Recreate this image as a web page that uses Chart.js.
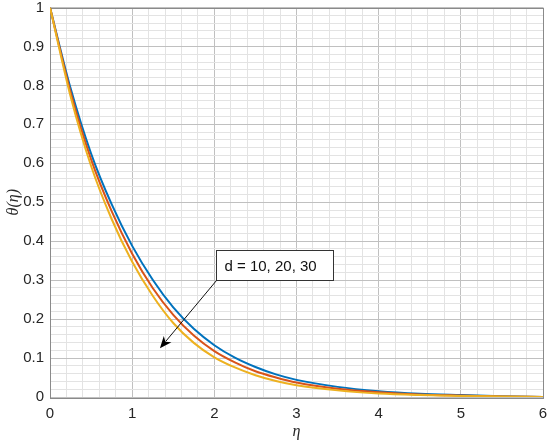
<!DOCTYPE html>
<html>
<head>
<meta charset="utf-8">
<script src="https://cdn.jsdelivr.net/npm/chart.js@4.4.1/dist/chart.umd.min.js"></script>
<style>
  html, body { margin: 0; padding: 0; background: #fff; }
  #wrap { width: 550px; height: 445px; }
</style>
</head>
<body>
<div id="wrap"><canvas id="myChart" width="550" height="445"></canvas></div>
<script>
// eta grid and temperature profiles
const etaValues = [0, 0.25, 0.5, 0.75, 1, 1.25, 1.5, 1.75, 2, 2.25, 2.5, 2.75, 3, 3.5, 4, 4.5, 5, 5.5, 6];
const thetaD10 = [1, 0.793, 0.625, 0.495, 0.388, 0.301, 0.23, 0.175, 0.133, 0.101, 0.077, 0.058, 0.044, 0.026, 0.015, 0.0085, 0.005, 0.002, 0];
const thetaD20 = [1, 0.783, 0.61, 0.477, 0.368, 0.28, 0.211, 0.158, 0.118, 0.089, 0.066, 0.05, 0.037, 0.021, 0.012, 0.0065, 0.0037, 0.0015, 0];
const thetaD30 = [1, 0.772, 0.593, 0.457, 0.347, 0.26, 0.19, 0.139, 0.102, 0.076, 0.056, 0.041, 0.03, 0.017, 0.009, 0.005, 0.0027, 0.0013, 0];

const xMajorTicks = [0, 1, 2, 3, 4, 5, 6];
const yMajorTicks = [0, 0.1, 0.2, 0.3, 0.4, 0.5, 0.6, 0.7, 0.8, 0.9, 1];

const annotationText = 'd = 10, 20, 30';
const boxCorner = { x: 2.016, y: 0.377 };   // top-left of text box (data units)
const arrowTip = { x: 1.338, y: 0.125 };

const textColor = '#262626';
const majorGrid = '#c0c0c0';
const minorGrid = '#e3e3e3';

function toPoints(ys) {
    return etaValues.map(function(x, i) { return { x: x, y: ys[i] }; });
}

function isMajor(value, list) {
    return list.some(function(t) { return Math.abs(t - value) < 1e-6; });
}

const boxPlugin = {
    id: 'boxPlugin',
    beforeDatasetsDraw(chart) {
        const a = chart.chartArea;
        const ctx = chart.ctx;
        ctx.save();
        ctx.strokeStyle = '#8a8a8a';
        ctx.lineWidth = 1;
        ctx.strokeRect(Math.round(a.left) + 0.5, Math.round(a.top) + 0.5,
            Math.round(a.right - a.left), Math.round(a.bottom - a.top));
        ctx.restore();
    }
};

const notePlugin = {
    id: 'notePlugin',
    afterDatasetsDraw(chart) {
        const ctx = chart.ctx;
        const xs = chart.scales.x, ys = chart.scales.y;
        const bx = Math.round(xs.getPixelForValue(boxCorner.x)) + 0.5;
        const by = Math.round(ys.getPixelForValue(boxCorner.y)) + 0.5;
        ctx.save();
        ctx.font = '15px "Liberation Sans", Arial, sans-serif';
        const tw = ctx.measureText(annotationText).width;
        const bw = Math.round(tw + 25), bh = 30;
        ctx.fillStyle = '#fff';
        ctx.fillRect(bx, by, bw, bh);
        ctx.strokeStyle = '#333';
        ctx.lineWidth = 1;
        ctx.strokeRect(bx, by, bw, bh);
        ctx.fillStyle = '#111';
        ctx.textBaseline = 'middle';
        ctx.fillText(annotationText, bx + 8, by + bh / 2 + 1);

        // arrow from the lower-left corner of the box
        const sx = bx, sy = by + bh;
        const tx = xs.getPixelForValue(arrowTip.x), ty = ys.getPixelForValue(arrowTip.y);
        const ang = Math.atan2(ty - sy, tx - sx);
        const hl = 12, hw = 5;
        const ux = Math.cos(ang), uy = Math.sin(ang);
        const baseX = tx - ux * hl, baseY = ty - uy * hl;
        ctx.strokeStyle = '#111';
        ctx.beginPath();
        ctx.moveTo(sx, sy);
        ctx.lineTo(baseX + ux * 3, baseY + uy * 3);
        ctx.stroke();
        ctx.fillStyle = '#000';
        ctx.beginPath();
        ctx.moveTo(tx, ty);
        ctx.lineTo(baseX - uy * hw, baseY + ux * hw);
        ctx.lineTo(baseX + ux * 3.5, baseY + uy * 3.5);
        ctx.lineTo(baseX + uy * hw, baseY - ux * hw);
        ctx.closePath();
        ctx.fill();
        ctx.restore();
    }
};

const lineStyle = {
    borderWidth: 2,
    pointRadius: 0,
    fill: false,
    cubicInterpolationMode: 'monotone'
};

const ctx = document.getElementById('myChart');
new Chart(ctx, {
    type: 'line',
    data: {
        datasets: [
            Object.assign({ label: 'd = 30', data: toPoints(thetaD30), borderColor: '#EDB120' }, lineStyle),
            Object.assign({ label: 'd = 20', data: toPoints(thetaD20), borderColor: '#D95319' }, lineStyle),
            Object.assign({ label: 'd = 10', data: toPoints(thetaD10), borderColor: '#0072BD' }, lineStyle)
        ]
    },
    options: {
        responsive: false,
        animation: false,
        layout: { padding: { left: 0, top: 7.5, right: 7, bottom: 0 } },
        plugins: {
            legend: { display: false },
            tooltip: { enabled: false }
        },
        scales: {
            x: {
                type: 'linear',
                min: 0,
                max: 6,
                afterFit: function(scale) {
                    scale.height = 48;
                    scale.paddingLeft = 0;
                    scale.paddingRight = 0;
                },
                border: { display: false },
                grid: {
                    drawTicks: false,
                    color: function(c) { return isMajor(c.tick.value, xMajorTicks) ? majorGrid : minorGrid; }
                },
                ticks: {
                    stepSize: 0.2,
                    autoSkip: false,
                    maxRotation: 0,
                    padding: 8,
                    color: textColor,
                    font: { family: '"Liberation Sans", Arial, sans-serif', size: 15 },
                    callback: function(v) { return isMajor(v, xMajorTicks) ? String(Math.round(v)) : ''; }
                },
                title: {
                    display: true,
                    text: 'η',
                    color: textColor,
                    padding: { top: 4, bottom: 4 },
                    font: { family: '"Liberation Serif", "Times New Roman", serif', size: 16, style: 'italic' }
                }
            },
            y: {
                type: 'linear',
                min: 0,
                max: 1,
                afterFit: function(scale) {
                    scale.width = 50;
                    scale.paddingTop = 0;
                    scale.paddingBottom = 0;
                },
                border: { display: false },
                grid: {
                    drawTicks: false,
                    color: function(c) { return isMajor(c.tick.value, yMajorTicks) ? majorGrid : minorGrid; }
                },
                ticks: {
                    stepSize: 0.02,
                    autoSkip: false,
                    padding: 6,
                    color: textColor,
                    font: { family: '"Liberation Sans", Arial, sans-serif', size: 15 },
                    callback: function(v) {
                        return isMajor(v, yMajorTicks) ? String(Math.round(v * 10) / 10) : '';
                    }
                },
                title: {
                    display: true,
                    text: 'θ(η)',
                    color: textColor,
                    padding: { top: 4, bottom: 4 },
                    font: { family: '"Liberation Serif", "Times New Roman", serif', size: 16, style: 'italic' }
                }
            }
        }
    },
    plugins: [boxPlugin, notePlugin]
});
</script>
</body>
</html>
